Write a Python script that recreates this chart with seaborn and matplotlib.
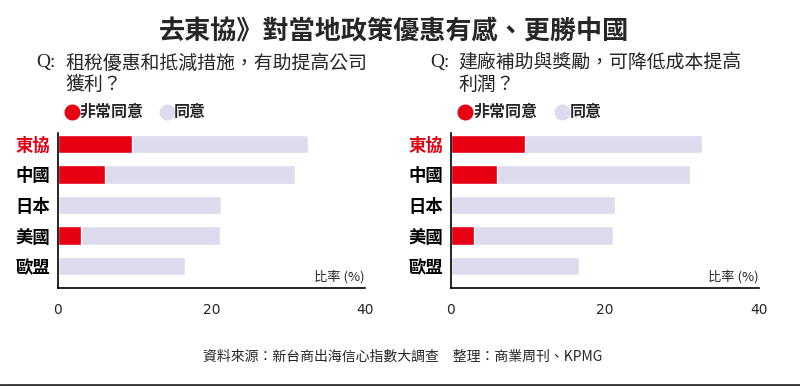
import matplotlib
matplotlib.use("Agg")
import matplotlib.pyplot as plt
from matplotlib.lines import Line2D
import seaborn as sns
import pandas as pd

sns.set_theme(style="white")
plt.rcParams['font.family'] = ['Noto Sans CJK TC', 'DejaVu Sans']

# ---- data ----
categories = ["東協", "中國", "日本", "美國", "歐盟"]
left_very_agree = [9.7, 6.1, 0.0, 3.0, 0.0]
left_agree = [22.9, 24.8, 21.2, 18.1, 16.6]
right_very_agree = [9.6, 6.0, 0.0, 3.0, 0.0]
right_agree = [23.0, 25.1, 21.3, 18.0, 16.6]

title = "去東協》對當地政策優惠有感、更勝中國"
left_q = ["租稅優惠和抵減措施，有助提高公司", "獲利？"]
right_q = ["建廠補助與獎勵，可降低成本提高", "利潤？"]
legend_labels = ["非常同意", "同意"]
unit_label = "比率 (%)"
source = "資料來源：新台商出海信心指數大調查　整理：商業周刊、KPMG"
xticks = [0, 20, 40]

RED = "#E60012"
LIGHT = "#DCDCEE"

W, H = 800, 386
fig = plt.figure(figsize=(8, 3.86), dpi=100)

def fx(px):
    return px / W

def fy(py):
    return 1 - py / H

ax_top, ax_bot = 133, 288
axes_specs = [(58, 365, left_very_agree, left_agree), (450.7, 759, right_very_agree, right_agree)]

for (x0, x1, very, agree) in axes_specs:
    ax = fig.add_axes([fx(x0), fy(ax_bot), fx(x1 - x0), (ax_bot - ax_top) / H])
    df = pd.DataFrame({"cat": categories,
                       "total": [v + a for v, a in zip(very, agree)],
                       "very": very})
    sns.barplot(data=df, y="cat", x="total", color=LIGHT, width=0.6,
                saturation=1, ax=ax, orient="h")
    sns.barplot(data=df, y="cat", x="very", color=RED, width=0.6,
                saturation=1, ax=ax, orient="h")
    ax.set_xlim(0, 40)
    ax.set_ylim(4.72, -0.36)
    ax.set_xlabel("")
    ax.set_ylabel("")
    ax.set_xticks(xticks)
    ax.set_xticklabels([str(t) for t in xticks], fontsize=10, family="DejaVu Sans")
    ax.tick_params(axis="x", direction="out", length=7, width=1, color="black", pad=4)
    ax.tick_params(axis="y", length=0, pad=5.5)
    for lab in ax.get_yticklabels():
        lab.set_fontsize(12.5)
        lab.set_fontweight("bold")
        lab.set_color(RED if lab.get_text() == "東協" else "black")
    for s in ["top", "right"]:
        ax.spines[s].set_visible(False)
    for s in ["left", "bottom"]:
        ax.spines[s].set_color("black")
        ax.spines[s].set_linewidth(1.2)
    ax.text(40, 4.36, unit_label, ha="right", va="center", fontsize=9.5)

# title
fig.text(fx(394), fy(32), title, ha="center", va="center", fontsize=18.8, fontweight="bold")

# questions
for qx, tx, lines in [(36, 65, left_q), (430, 458, right_q)]:
    fig.text(fx(qx), fy(63), "Q:", ha="left", va="center", fontsize=14,
             family="Liberation Serif")
    fig.text(fx(tx), fy(63), lines[0], ha="left", va="center", fontsize=13.6)
    fig.text(fx(tx), fy(84), lines[1], ha="left", va="center", fontsize=13.6)

# legends
for rx, rt, lx, lt in [(71.7, 79, 167, 174), (465, 473, 562, 570)]:
    fig.add_artist(Line2D([fx(rx)], [fy(111.7)], marker="o", markersize=10.5,
                          color=RED, linestyle="none", transform=fig.transFigure))
    fig.text(fx(rt), fy(111.7), legend_labels[0], ha="left", va="center",
             fontsize=11.5, fontweight="bold")
    fig.add_artist(Line2D([fx(lx)], [fy(111.7)], marker="o", markersize=10.5,
                          color=LIGHT, linestyle="none", transform=fig.transFigure))
    fig.text(fx(lt), fy(111.7), legend_labels[1], ha="left", va="center",
             fontsize=11.5, fontweight="bold")

# source
fig.text(fx(403), fy(357), source, ha="center", va="center", fontsize=10)

# bottom rule
fig.add_artist(Line2D([0, 1], [fy(384.5), fy(384.5)], color="#333333", lw=2,
                      transform=fig.transFigure))

fig.savefig("out.png", dpi=100, facecolor="white")
